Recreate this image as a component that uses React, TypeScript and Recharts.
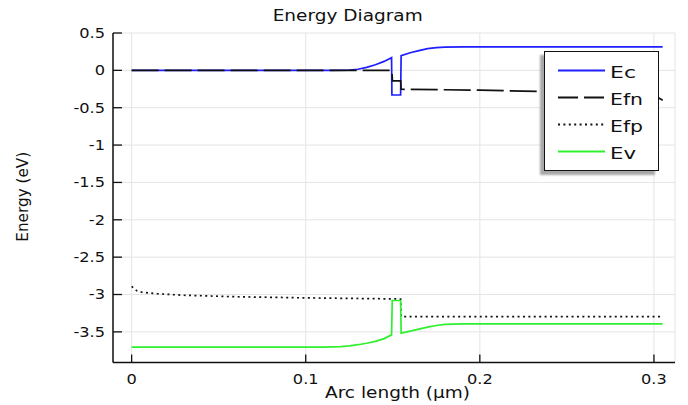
import { LineChart, Line, XAxis, YAxis, CartesianGrid, Legend } from "recharts";

const FONT = "'DejaVu Sans', Verdana, sans-serif";

const xTicks = [0, 0.1, 0.2, 0.3];
const yTicks = [0.5, 0, -0.5, -1, -1.5, -2, -2.5, -3, -3.5];

// Ec - conduction band
const ecX = [0, 0.115, 0.125, 0.13, 0.135, 0.14, 0.145, 0.1493, 0.1495, 0.1545, 0.1548, 0.16, 0.165, 0.17, 0.175, 0.18, 0.19, 0.25, 0.305];
const ecY = [0, 0, 0.004, 0.015, 0.04, 0.075, 0.12, 0.17, -0.33, -0.33, 0.197, 0.235, 0.265, 0.29, 0.305, 0.312, 0.314, 0.314, 0.314];

// Efn - electron quasi-Fermi level
const efnX = [0, 0.1495, 0.1498, 0.1545, 0.1548, 0.2, 0.25, 0.3, 0.305];
const efnY = [0, 0, -0.14, -0.14, -0.253, -0.265, -0.29, -0.33, -0.4];

// Efp - hole quasi-Fermi level
const efpX = [0, 0.003, 0.006, 0.015, 0.03, 0.06, 0.1, 0.1545, 0.1548, 0.305];
const efpY = [-2.89, -2.95, -2.97, -2.99, -3.01, -3.03, -3.045, -3.06, -3.295, -3.295];

// Ev - valence band
const evX = [0, 0.11, 0.12, 0.125, 0.13, 0.135, 0.14, 0.145, 0.1493, 0.1497, 0.1545, 0.1548, 0.16, 0.165, 0.17, 0.175, 0.18, 0.19, 0.305];
const evY = [-3.704, -3.704, -3.697, -3.687, -3.672, -3.652, -3.627, -3.59, -3.54, -3.08, -3.08, -3.517, -3.49, -3.463, -3.437, -3.415, -3.4, -3.393, -3.393];

const toPoints = (xs: number[], ys: number[]) => xs.map((x, i) => ({ x, y: ys[i] }));

const series = [
  { name: "Ec", color: "#1e1eff", dash: undefined, legendDash: undefined, width: 1.7, data: toPoints(ecX, ecY), textW: 26 },
  { name: "Efn", color: "#111111", dash: "27 6", legendDash: "20 6", width: 1.7, data: toPoints(efnX, efnY), textW: 33 },
  { name: "Efp", color: "#111111", dash: "2 3.4", legendDash: "2 3.4", width: 1.7, data: toPoints(efpX, efpY), textW: 33 },
  { name: "Ev", color: "#2ef02e", dash: undefined, legendDash: undefined, width: 1.7, data: toPoints(evX, evY), textW: 26 },
];

function SText({ x, y, anchor, size, sx = 1.2, children }: any) {
  return (
    <text
      transform={`translate(${x},${y}) scale(${sx},1)`}
      textAnchor={anchor}
      fontSize={size}
      fontFamily={FONT}
      fill="#111"
    >
      {children}
    </text>
  );
}

function BottomTick({ x, y, payload }: any) {
  return (
    <g>
      <line x1={x} y1={y} x2={x} y2={y - 8} stroke="#111" strokeWidth={1.3} />
      <SText x={x} y={y + 21} anchor="middle" size={13.5}>
        {String(payload.value)}
      </SText>
    </g>
  );
}

function TopTick({ x, y }: any) {
  return <line x1={x} y1={y} x2={x} y2={y + 8} stroke="#111" strokeWidth={1.3} />;
}

function LeftTick({ x, y, payload }: any) {
  return (
    <g>
      <line x1={x} y1={y} x2={x + 9} y2={y} stroke="#111" strokeWidth={1.3} />
      <SText x={x - 8} y={y + 4.8} anchor="end" size={13.5}>
        {String(payload.value)}
      </SText>
    </g>
  );
}

function RightTick({ x, y }: any) {
  return <line x1={x} y1={y} x2={x - 9} y2={y} stroke="#111" strokeWidth={1.3} />;
}

function LegendBox() {
  return (
    <div
      style={{
        boxSizing: "border-box",
        width: 115,
        height: 120,
        border: "1.5px solid #111",
        background: "#fff",
        boxShadow: "-4px 4px 2px #a8a8a8",
      }}
    >
      <svg width={112} height={117} style={{ display: "block" }}>
        {series.map((s, i) => {
          const cy = 18.5 + i * 27;
          return (
            <g key={s.name}>
              <line
                x1={13}
                x2={60}
                y1={cy}
                y2={cy}
                stroke={s.color}
                strokeWidth={2}
                strokeDasharray={s.legendDash}
              />
              <text
                x={65}
                y={cy + 7.5}
                fontSize={16}
                fontFamily={FONT}
                fill="#111"
                textLength={s.textW}
                lengthAdjust="spacingAndGlyphs"
              >
                {s.name}
              </text>
            </g>
          );
        })}
      </svg>
    </div>
  );
}

export default function App() {
  return (
    <div style={{ position: "absolute", left: 0, top: 0, width: 688, height: 405, background: "#fff" }}>
      <svg
        width={688}
        height={30}
        style={{ position: "absolute", left: 0, top: 0, pointerEvents: "none" }}
      >
        <text
          x={347.7}
          y={21}
          textAnchor="middle"
          fontSize={15}
          fontFamily={FONT}
          fill="#111"
          textLength={150}
          lengthAdjust="spacingAndGlyphs"
        >
          Energy Diagram
        </text>
      </svg>
      <LineChart width={688} height={405} margin={{ top: 33, right: 13, bottom: 0, left: 0 }}>
        <CartesianGrid stroke="#e4e4e4" strokeWidth={1} />
        <XAxis
          type="number"
          dataKey="x"
          domain={[-0.0107, 0.3121]}
          ticks={xTicks}
          allowDataOverflow
          height={42.5}
          tickSize={0}
          tickMargin={0}
          tick={<BottomTick />}
          axisLine={{ stroke: "#111", strokeWidth: 1.5 }}
          label={{
            content: ({ viewBox }: any) => (
              <text
                x={viewBox.x + viewBox.width / 2 + 3.5}
                y={398}
                textAnchor="middle"
                fontSize={16.5}
                fontFamily={FONT}
                fill="#111"
                textLength={145}
                lengthAdjust="spacingAndGlyphs"
              >
                Arc length (µm)
              </text>
            ),
          }}
        />
        <XAxis
          xAxisId="top"
          orientation="top"
          type="number"
          dataKey="x"
          domain={[-0.0107, 0.3121]}
          ticks={xTicks}
          allowDataOverflow
          height={0}
          tickSize={0}
          tickMargin={0}
          tick={<TopTick />}
          axisLine={{ stroke: "#111", strokeWidth: 1.5 }}
        />
        <YAxis
          type="number"
          domain={[-3.91, 0.5]}
          ticks={yTicks}
          allowDataOverflow
          width={113}
          tickSize={0}
          tickMargin={0}
          tick={<LeftTick />}
          axisLine={{ stroke: "#111", strokeWidth: 1.5 }}
          label={{
            content: ({ viewBox }: any) => {
              const cy = viewBox.y + viewBox.height / 2 - 1;
              return (
                <text
                  transform={`translate(28,${cy}) rotate(-90)`}
                  textAnchor="middle"
                  fontSize={15.5}
                  fontFamily={FONT}
                  fill="#111"
                  textLength={90}
                  lengthAdjust="spacingAndGlyphs"
                >
                  Energy (eV)
                </text>
              );
            },
          }}
        />
        <YAxis
          yAxisId="right"
          orientation="right"
          type="number"
          domain={[-3.91, 0.5]}
          ticks={yTicks}
          allowDataOverflow
          width={0}
          tickSize={0}
          tickMargin={0}
          tick={<RightTick />}
          axisLine={{ stroke: "#111", strokeWidth: 1.5 }}
        />
        {series.map((s) => (
          <Line
            key={s.name}
            data={s.data}
            dataKey="y"
            name={s.name}
            type="linear"
            stroke={s.color}
            strokeWidth={s.width}
            strokeDasharray={s.dash}
            dot={false}
            activeDot={false}
            isAnimationActive={false}
          />
        ))}
        <Legend
          layout="vertical"
          align="center"
          verticalAlign="middle"
          content={<LegendBox />}
          wrapperStyle={{ left: 544, top: 51, width: 115, height: 120 }}
        />
      </LineChart>
    </div>
  );
}
